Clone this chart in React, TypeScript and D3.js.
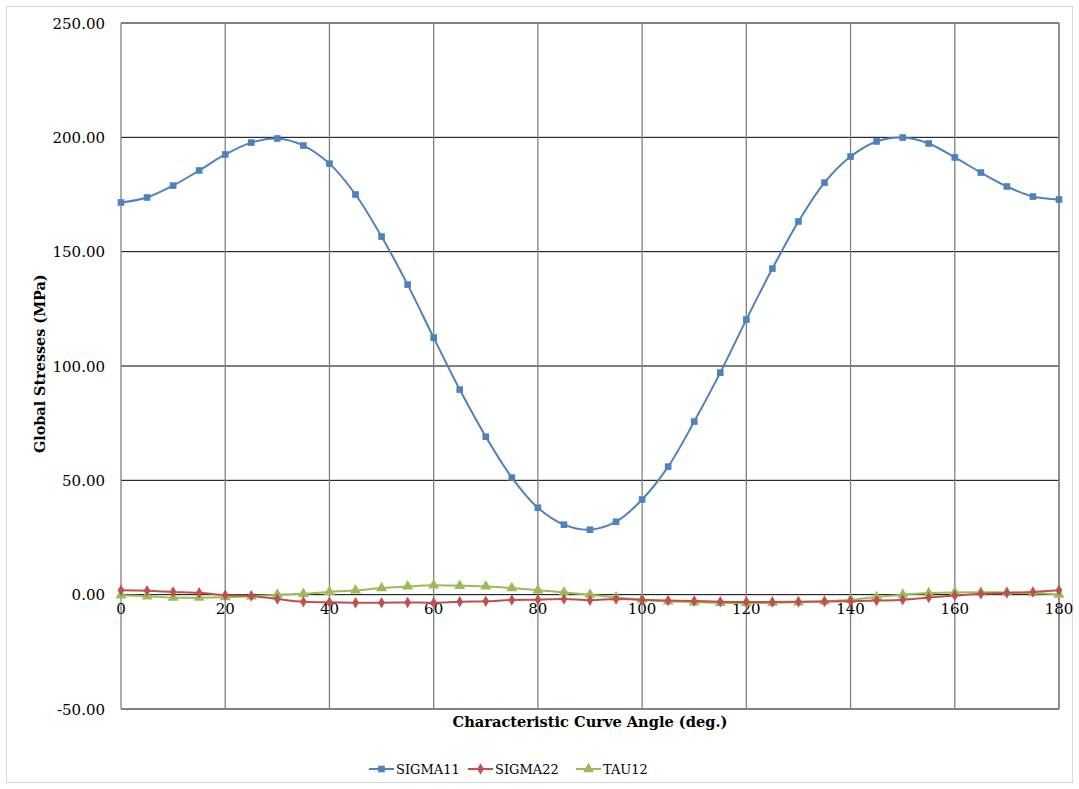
import React from "react";
import * as d3 from "d3";

// angle (deg.) sampled every 5 degrees
const angles = [0, 5, 10, 15, 20, 25, 30, 35, 40, 45, 50, 55, 60, 65, 70, 75, 80, 85, 90,
  95, 100, 105, 110, 115, 120, 125, 130, 135, 140, 145, 150, 155, 160, 165, 170, 175, 180];

const sigma11 = [171.5, 173.7, 178.9, 185.5, 192.5, 197.7, 199.5, 196.4, 188.5, 175.0, 156.6,
  135.6, 112.4, 89.7, 69.1, 51.2, 38.0, 30.6, 28.4, 31.9, 41.6, 56.0, 75.7, 97.1, 120.3, 142.6,
  163.2, 180.2, 191.6, 198.2, 199.9, 197.3, 191.2, 184.6, 178.5, 174.1, 172.8];

const sigma22 = [1.9, 1.7, 1.2, 0.8, -0.2, -0.6, -1.9, -3.1, -3.3, -3.5, -3.5, -3.4, -3.5, -3.1,
  -2.9, -2.3, -2.2, -1.9, -2.4, -1.9, -2.2, -2.6, -2.8, -3.1, -3.2, -3.2, -3.1, -3.0, -2.9,
  -2.6, -2.2, -1.2, -0.4, 0.4, 0.7, 1.2, 1.9];

const tau12 = [-0.3, -0.7, -1.3, -1.3, -1.1, -0.7, 0.0, 0.4, 1.2, 1.9, 2.9, 3.6, 4.1, 3.9, 3.6,
  2.9, 1.9, 1.0, 0.0, -1.2, -2.2, -2.9, -3.3, -3.6, -3.6, -3.6, -3.3, -2.9, -2.2, -1.0, 0.0,
  0.7, 1.0, 1.0, 1.0, 0.7, 0.0];

const seriesNames = ["SIGMA11", "SIGMA22", "TAU12"];
const seriesColors = ["#4F81BD", "#C0504D", "#9BBB59"];
const markerShapes = [d3.symbolSquare, d3.symbolDiamond, d3.symbolTriangle];
const markerSizes = [44, 38, 52];

const xTicks = [0, 20, 40, 60, 80, 100, 120, 140, 160, 180];
const yTicks = [-50, 0, 50, 100, 150, 200, 250];

// only serif face available in the sandbox
const font = "'DejaVu Serif', serif";

export default function App() {
  const width = 1079;
  const height = 789;
  const margin = { top: 23, right: 20, bottom: 80, left: 121 };
  const x = d3.scaleLinear().domain([0, 180]).range([margin.left, width - margin.right]);
  const y = d3.scaleLinear().domain([-50, 250]).range([height - margin.bottom, margin.top]);

  const allSeries = [sigma11, sigma22, tau12];
  const line = d3.line<number>()
    .x((_, i) => x(angles[i]))
    .y(d => y(d))
    .curve(d3.curveCatmullRom.alpha(0.5));

  const legendX = [369, 468, 576];

  return (
    <svg width={width} height={height} style={{ display: "block", position: "absolute", left: 0, top: 0 }}>
      <rect x={0} y={0} width={width} height={height} fill="#fff" />
      <rect x={6.5} y={6.5} width={1066} height={776} fill="none" stroke="#d9d9d9" />

      {/* grid */}
      {yTicks.map(t => (
        <line key={"gy" + t} x1={x(0)} x2={x(180)} y1={y(t)} y2={y(t)} stroke="#000" strokeWidth={1} />
      ))}
      {xTicks.map(t => (
        <line key={"gx" + t} x1={x(t)} x2={x(t)} y1={y(250)} y2={y(-50)} stroke="#808080" strokeWidth={1.3} />
      ))}
      <line x1={x(180)} x2={x(180)} y1={y(250)} y2={y(-50)} stroke="#808080" strokeWidth={1.3} />

      {/* tick labels */}
      {yTicks.map(t => (
        <text key={"ty" + t} x={105} y={y(t) + 5.5} textAnchor="end" fontFamily={font} fontSize={15} fill="#000">
          {t.toFixed(2)}
        </text>
      ))}
      {xTicks.map(t => (
        <text key={"tx" + t} x={x(t)} y={y(0) + 19} textAnchor="middle" fontFamily={font} fontSize={15} fill="#000">
          {t}
        </text>
      ))}

      {/* axis titles */}
      <text x={590} y={727} textAnchor="middle" fontFamily={font} fontSize={14.6} fontWeight="bold">
        Characteristic Curve Angle (deg.)
      </text>
      <text transform={`translate(45,${y(101)}) rotate(-90)`} textAnchor="middle" fontFamily={font} fontSize={14.4} fontWeight="bold">
        Global Stresses (MPa)
      </text>

      {/* series */}
      {[2, 1, 0].map(si => (
        <g key={seriesNames[si]}>
          <path d={line(allSeries[si]) || ""} fill="none" stroke={seriesColors[si]} strokeWidth={2} />
          {allSeries[si].map((v, i) => (
            <path key={i}
              d={d3.symbol().type(markerShapes[si]).size(markerSizes[si])() || ""}
              transform={`translate(${x(angles[i])},${y(v)})`}
              fill={seriesColors[si]} />
          ))}
        </g>
      ))}

      {/* legend */}
      {seriesNames.map((name, i) => (
        <g key={name} transform={`translate(${legendX[i]},769)`}>
          <line x1={0} x2={25} y1={0} y2={0} stroke={seriesColors[i]} strokeWidth={2} />
          <path d={d3.symbol().type(markerShapes[i]).size(markerSizes[i])() || ""} transform="translate(12.5,0)" fill={seriesColors[i]} />
          <text x={27} y={5} fontFamily={font} fontSize={13} fill="#000">{name}</text>
        </g>
      ))}
    </svg>
  );
}
